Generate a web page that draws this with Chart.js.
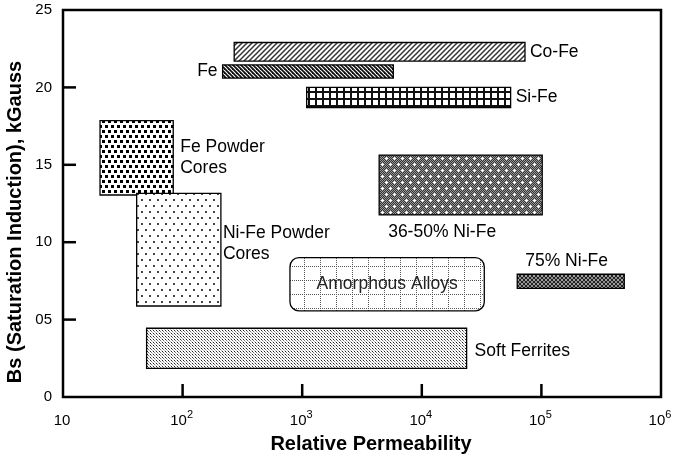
<!DOCTYPE html>
<html>
<head>
<meta charset="utf-8">
<script src="https://cdn.jsdelivr.net/npm/chart.js@4"></script>
<style>
  html, body { margin: 0; padding: 0; background: #fff; }
  #wrap { width: 676px; height: 458px; }
</style>
</head>
<body>
<div id="wrap"><canvas id="bsChart" width="676" height="458"></canvas></div>
<script>
// データ
const materials = ['Co-Fe', 'Fe', 'Si-Fe', 'Fe Powder Cores', 'Ni-Fe Powder Cores',
  '36-50% Ni-Fe', 'Amorphous Alloys', '75% Ni-Fe', 'Soft Ferrites'];
const muMin = [270, 216, 1090, 20.4, 41.3, 4400, 790, 62800, 50];
const muMax = [72900, 5780, 55300, 83.5, 209, 101600, 33300, 493000, 23700];
const bsMin = [21.7, 20.6, 18.7, 13.05, 5.88, 11.76, 5.56, 7.02, 1.85];
const bsMax = [22.9, 21.45, 20.0, 17.85, 13.15, 15.63, 9.0, 7.93, 4.44];
const labelLines = [['Co-Fe'], ['Fe'], ['Si-Fe'], ['Fe Powder', 'Cores'], ['Ni-Fe Powder', 'Cores'],
  ['36-50% Ni-Fe'], ['Amorphous Alloys'], ['75% Ni-Fe'], ['Soft Ferrites']];
const yTickValues = [0, 5, 10, 15, 20, 25];
const yTickLabels = ['0', '05', '10', '15', '20', '25'];
const xTickExps = [1, 2, 3, 4, 5, 6];

// ラベル位置（矩形の辺からのオフセット, px）
const labelPlace = [
  { ax: 'r', ay: 'm', dx: 5, dy: 0 },
  { ax: 'l', ay: 'm', dx: -5, dy: 0, align: 'right' },
  { ax: 'r', ay: 'm', dx: 5, dy: 0 },
  { ax: 'r', ay: 'm', dx: 7, dy: 0 },
  { ax: 'r', ay: 't', dx: 2, dy: 50 },
  { ax: 'l', ay: 'b', dx: 9, dy: 17 },
  { ax: 'c', ay: 'm', dx: 0, dy: 0, align: 'center', color: '#222' },
  { ax: 'l', ay: 't', dx: 8, dy: -13 },
  { ax: 'r', ay: 'm', dx: 8, dy: 3 }
];

const FONT = "'Liberation Sans', Arial, sans-serif";

// パターン生成
function makePattern(ctx, w, h, draw) {
  const c = document.createElement('canvas');
  c.width = w; c.height = h;
  const g = c.getContext('2d');
  g.fillStyle = '#fff';
  g.fillRect(0, 0, w, h);
  draw(g);
  return ctx.createPattern(c, 'repeat');
}

function buildPatterns(ctx) {
  const line = (g, pts, color, lw) => {
    g.strokeStyle = color; g.lineWidth = lw;
    pts.forEach(p => { g.beginPath(); g.moveTo(p[0], p[1]); g.lineTo(p[2], p[3]); g.stroke(); });
  };
  return [
    // Co-Fe: 斜線 /
    makePattern(ctx, 5, 5, g => line(g, [[-1, 6, 6, -1], [-1, 1, 1, -1], [4, 6, 6, 4]], '#333', 1.5)),
    // Fe: 逆斜線 \
    makePattern(ctx, 4, 4, g => line(g, [[-1, -1, 5, 5], [-1, 3, 1, 5], [3, -1, 5, 1]], '#111', 1.8)),
    // Si-Fe: 格子
    makePattern(ctx, 7, 7, g => { g.fillStyle = '#111'; g.fillRect(0, 0, 7, 2); g.fillRect(0, 0, 2, 7); }),
    // Fe Powder: 大きな黒点
    makePattern(ctx, 6, 10, g => { g.fillStyle = '#000'; g.fillRect(0, 0, 3, 3); g.fillRect(3, 5, 3, 3); }),
    // Ni-Fe Powder: 小さな点
    makePattern(ctx, 8, 12, g => { g.fillStyle = '#444'; g.fillRect(1, 1, 2, 2); g.fillRect(5, 7, 2, 2); }),
    // 36-50%: 灰色チェック + 白い十字
    makePattern(ctx, 8, 12, g => {
      for (let y = 0; y < 12; y++) for (let x = 0; x < 8; x++) {
        g.fillStyle = (x + y) % 2 ? '#333' : '#999';
        g.fillRect(x, y, 1, 1);
      }
      g.fillStyle = '#fff';
      [[2, 2], [6, 8]].forEach(([x, y]) => { g.fillRect(x - 1, y, 3, 1); g.fillRect(x, y - 1, 1, 3); });
    }),
    // Amorphous: 点線グリッド
    makePattern(ctx, 16, 14, g => {
      g.fillStyle = '#555';
      for (let i = 0; i < 16; i += 2) g.fillRect(i, 0, 1, 1);
      for (let i = 0; i < 14; i += 2) g.fillRect(0, i, 1, 1);
    }),
    // 75% Ni-Fe: 濃いクロスハッチ
    makePattern(ctx, 4, 4, g => line(g, [[-1, -1, 5, 5], [-1, 5, 5, -1], [-1, 3, 1, 5], [3, -1, 5, 1], [-1, 1, 1, -1], [3, 5, 5, 3]], '#222', 1.3)),
    // Soft Ferrites: 細かい点
    makePattern(ctx, 3, 3, g => { g.fillStyle = '#222'; g.fillRect(0, 0, 1, 1); g.fillStyle = '#777'; g.fillRect(1, 1, 1, 1); g.fillStyle = '#bbb'; g.fillRect(2, 2, 1, 1); })
  ];
}

const rectPlugin = {
  id: 'rangeRects',
  afterDraw(chart) {
    const { ctx, chartArea: a, scales: { x, y } } = chart;
    const pats = buildPatterns(ctx);
    ctx.save();

    // 材料ごとの矩形
    materials.forEach((m, i) => {
      const x1 = x.getPixelForValue(muMin[i]);
      const x2 = x.getPixelForValue(muMax[i]);
      const y1 = y.getPixelForValue(bsMax[i]);
      const y2 = y.getPixelForValue(bsMin[i]);
      ctx.beginPath();
      if (m === 'Amorphous Alloys') ctx.roundRect(x1, y1, x2 - x1, y2 - y1, 9);
      else ctx.rect(x1, y1, x2 - x1, y2 - y1);
      ctx.fillStyle = pats[i];
      ctx.fill();
      ctx.strokeStyle = '#000';
      ctx.lineWidth = 1.3;
      ctx.stroke();

      // ラベル
      const p = labelPlace[i];
      const ax = p.ax === 'l' ? x1 : p.ax === 'r' ? x2 : (x1 + x2) / 2;
      const ay = p.ay === 't' ? y1 : p.ay === 'b' ? y2 : (y1 + y2) / 2;
      const lines = labelLines[i];
      const lh = 21;
      ctx.font = `17.5px ${FONT}`;
      ctx.fillStyle = p.color || '#000';
      ctx.textAlign = p.align || 'left';
      ctx.textBaseline = 'middle';
      lines.forEach((t, k) => {
        ctx.fillText(t, ax + p.dx, ay + p.dy + (k - (lines.length - 1) / 2) * lh);
      });
    });

    // 枠線
    ctx.strokeStyle = '#000';
    ctx.lineWidth = 2.5;
    ctx.strokeRect(a.left, a.top, a.right - a.left, a.bottom - a.top);

    // 目盛り（内向き）
    yTickValues.slice(1, -1).forEach(v => {
      const py = y.getPixelForValue(v);
      ctx.beginPath(); ctx.moveTo(a.left, py); ctx.lineTo(a.left + 13, py); ctx.stroke();
    });
    xTickExps.slice(1, -1).forEach(e => {
      const px = x.getPixelForValue(Math.pow(10, e));
      ctx.beginPath(); ctx.moveTo(px, a.bottom); ctx.lineTo(px, a.bottom - 13); ctx.stroke();
    });

    // x軸ラベル（10のべき乗）
    ctx.fillStyle = '#000';
    ctx.textBaseline = 'middle';
    ctx.textAlign = 'left';
    xTickExps.forEach(e => {
      const px = x.getPixelForValue(Math.pow(10, e));
      const sup = e === 1 ? '' : String(e);
      ctx.font = `15px ${FONT}`;
      const wb = ctx.measureText('10').width;
      ctx.font = `11px ${FONT}`;
      const ws = sup ? ctx.measureText(sup).width : 0;
      const sx = px - (wb + ws) / 2 - 1;
      ctx.font = `15px ${FONT}`;
      ctx.fillText('10', sx, 421);
      if (sup) {
        ctx.font = `11px ${FONT}`;
        ctx.fillText(sup, sx + wb, 415);
      }
    });

    // 軸タイトル
    ctx.font = `bold 20px ${FONT}`;
    ctx.textAlign = 'center';
    ctx.fillText('Relative Permeability', (a.left + a.right) / 2 + 9, 444);
    ctx.save();
    ctx.translate(15, 222);
    ctx.rotate(-Math.PI / 2);
    ctx.fillText('Bs (Saturation Induction), kGauss', 0, 0);
    ctx.restore();

    ctx.restore();
  }
};

// 軸の余白をなくしてプロット領域を固定
const noPad = (s) => { s.paddingTop = 0; s.paddingBottom = 0; s.paddingLeft = 0; s.paddingRight = 0; };

new Chart(document.getElementById('bsChart'), {
  type: 'scatter',
  data: { datasets: [] },
  options: {
    responsive: false,
    animation: false,
    devicePixelRatio: 1,
    layout: { padding: { top: 10, right: 15, left: 0, bottom: 0 } },
    plugins: { legend: { display: false }, tooltip: { enabled: false } },
    scales: {
      x: {
        type: 'logarithmic',
        min: 10,
        max: 1e6,
        ticks: { display: false },
        grid: { display: false, drawTicks: false },
        border: { display: false },
        afterFit: (s) => { s.height = 61; noPad(s); }
      },
      y: {
        min: 0,
        max: 25,
        afterBuildTicks: (s) => { s.ticks = yTickValues.map(v => ({ value: v })); },
        ticks: {
          callback: (v) => yTickLabels[yTickValues.indexOf(v)],
          font: { family: FONT, size: 15 },
          color: '#000',
          padding: 11
        },
        grid: { display: false, drawTicks: false },
        border: { display: false },
        afterFit: (s) => { s.width = 63; noPad(s); }
      }
    }
  },
  plugins: [rectPlugin]
});
</script>
</body>
</html>
